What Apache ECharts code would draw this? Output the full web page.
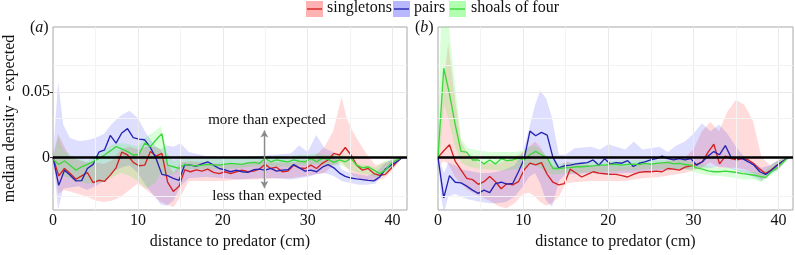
<!DOCTYPE html>
<html><head><meta charset="utf-8">
<script src="https://cdn.jsdelivr.net/npm/echarts@6/dist/echarts.min.js"></script>
<style>html,body{margin:0;padding:0;background:#fff;}#c{width:795px;height:255px;}</style>
</head><body><div id="c"></div>
<script>
// ---------- DATA ----------
const seriesNames = ['singletons', 'pairs', 'shoals of four'];
const xStep = 0.675;               // cm between successive medians
const xTicks = [0, 10, 20, 30, 40];
const yTicks = [0, 0.05];
const annotText = ['more than expected', 'less than expected'];
const panelLetters = ['a', 'b'];

// panel (a) medians
const aSingletons = [0, -0.0142, -0.0085, -0.0124, -0.0167, -0.0142, -0.0116, -0.0193, -0.0175, -0.0183,
 -0.0136, -0.008, 0.0039, 0.0018, -0.0039, -0.0064, -0.006, 0.0044, 0.001, 0.003,
 -0.019, -0.026, -0.022, -0.0095, -0.011, -0.0095, -0.0105, -0.009, -0.0115, -0.0124,
 -0.011, -0.0124, -0.011, -0.0098, -0.011, -0.0105, -0.009, -0.0054, -0.0085, -0.0075,
 -0.011, -0.0105, -0.006, -0.008, -0.0085, -0.006, -0.0085, -0.0046, -0.002, 0.003,
 0.0018, 0.0075, 0.0018, -0.006, -0.0098, -0.0085, -0.0124, -0.0137, -0.013, -0.0085,
 -0.0034, 0];
const aPairs = [0, -0.0214, -0.0098, -0.0136, -0.018, -0.0178, -0.0085, -0.0054, 0.0039, 0.0057,
 0.0167, 0.0108, 0.0186, 0.0219, 0.015, 0.0139, 0.0134, 0.0075, -0.001, -0.013,
 -0.014, -0.016, -0.0175, -0.0055, -0.006, -0.0068, -0.005, -0.0034, -0.006, -0.0085,
 -0.0095, -0.011, -0.0098, -0.011, -0.0115, -0.0095, -0.009, -0.0098, -0.0085, -0.0105,
 -0.0098, -0.0095, -0.0055, -0.008, -0.0105, -0.0098, -0.011, -0.0075, -0.0055, -0.008,
 -0.012, -0.0145, -0.0158, -0.0165, -0.017, -0.0176, -0.018, -0.015, -0.009, -0.006,
 -0.0034, 0];
const aShoals = [-0.0015, -0.0054, -0.0028, -0.006, -0.0098, -0.0072, -0.0054, -0.0033, -0.0008, 0.0018,
 0.0049, 0.0082, 0.0064, 0.0044, 0.0018, 0.0023, 0.0108, 0.0082, 0.0134, 0.018,
 -0.006, -0.0072, -0.0085, -0.0054, -0.006, -0.0065, -0.006, -0.0054, -0.0058, -0.006,
 -0.0052, -0.0046, -0.005, -0.0054, -0.0042, -0.0039, -0.0046, -0.0008, -0.0034, -0.002,
 -0.0028, -0.0034, -0.002, -0.003, -0.0034, -0.0008, -0.0034, -0.0008, -0.0015, -0.0039,
 -0.002, -0.0034, -0.0008, -0.006, -0.008, -0.0072, -0.0098, -0.0124, -0.0098, -0.0046,
 -0.002, 0];

// panel (b) medians
const bSingletons = [0, 0.005, 0.0096, -0.003, -0.0095, -0.016, -0.017, -0.0206, -0.0186, -0.0147,
 -0.0186, -0.024, -0.02, -0.021, -0.0186, -0.0095, -0.0044, -0.0057, -0.004, -0.013,
 -0.019, -0.021, -0.02, -0.009, -0.012, -0.015, -0.013, -0.011, -0.012, -0.0125,
 -0.013, -0.013, -0.014, -0.015, -0.013, -0.0115, -0.011, -0.011, -0.0105, -0.011,
 -0.0085, -0.009, -0.0098, -0.0075, -0.0065, -0.0054, -0.0034, 0.004, 0.010, -0.005,
 0.001, -0.001, -0.002, -0.001, -0.002, -0.005, -0.009, -0.0124, -0.0095, -0.006,
 -0.003, 0];
const bPairs = [0, -0.031, -0.014, -0.019, -0.0195, -0.022, -0.025, -0.0275, -0.025, -0.027,
 -0.02, -0.019, -0.0205, -0.02, -0.011, -0.001, 0.02, 0.0165, 0.019, 0.017,
 0.0, -0.008, -0.0065, -0.006, -0.005, -0.0045, -0.004, -0.002, -0.006, -0.001,
 -0.005, -0.004, -0.0045, -0.0025, -0.007, -0.0045, -0.0035, -0.002, -0.001, 0.001,
 -0.001, -0.002, -0.001, -0.002, -0.001, -0.006, -0.0034, 0.001, 0.0044, 0.002,
 0.009, 0.0, -0.001, -0.001, -0.0034, -0.006, -0.011, -0.013, -0.01, -0.006,
 -0.003, 0];
const bShoals = [0, 0.068, 0.0485, 0.025, 0.0046, 0.004, -0.002, -0.002, -0.005, -0.002,
 -0.005, -0.001, -0.0025, -0.002, -0.0005, -0.002, 0.002, 0.0046, 0.002, -0.0005,
 -0.0085, -0.0085, -0.008, -0.0078, -0.0072, -0.0072, -0.0068, -0.0065, -0.006, -0.006,
 -0.0055, -0.0055, -0.006, -0.0055, -0.0052, -0.0055, -0.0046, -0.0052, -0.0046, -0.0042,
 -0.0039, -0.005, -0.0046, -0.0055, -0.006, -0.008, -0.009, -0.0103, -0.011, -0.011,
 -0.0105, -0.011, -0.0116, -0.0124, -0.013, -0.0137, -0.0145, -0.0155, -0.011, -0.008,
 -0.0039, 0];

// panel (a) intervals
const bandXA = [0, 0.6, 1.2, 2, 3, 4, 5, 6, 7, 8, 9, 10, 11, 12, 12.7, 13.4, 14.2, 15, 16, 18,
 20, 22, 24, 26, 28, 29, 30, 31, 32, 33, 34, 34.6, 35.3, 36, 37, 38, 39, 40, 41.2];
const aSingLo = [0, -0.028, -0.025, -0.026, -0.028, -0.03, -0.033, -0.034, -0.033, -0.03,
 -0.025, -0.02, -0.025, -0.03, -0.034, -0.036, -0.038, -0.03, -0.018, -0.018,
 -0.018, -0.017, -0.017, -0.016, -0.016, -0.015, -0.014, -0.013, -0.012, -0.006,
 -0.004, -0.008, -0.014, -0.016, -0.018, -0.018, -0.016, -0.01, 0];
const aSingHi = [0, 0.018, 0.01, 0.0, -0.002, -0.004, -0.004, -0.005, -0.002, 0.006,
 0.008, 0.006, 0.008, 0.008, 0.006, -0.004, -0.012, -0.004, -0.003, -0.004,
 -0.005, -0.005, -0.003, -0.004, -0.004, -0.003, -0.002, 0.002, 0.008, 0.02,
 0.046, 0.03, 0.02, 0.012, 0.002, -0.006, -0.004, -0.002, 0];
const aPairsLo = [0, -0.04, -0.024, -0.023, -0.022, -0.025, -0.022, -0.018, -0.011, -0.008,
 -0.006, -0.012, -0.022, -0.03, -0.036, -0.037, -0.033, -0.022, -0.016, -0.015,
 -0.016, -0.017, -0.016, -0.016, -0.017, -0.016, -0.015, -0.013, -0.012, -0.014,
 -0.018, -0.019, -0.02, -0.021, -0.021, -0.02, -0.012, -0.008, 0];
const aPairsHi = [0, 0.058, 0.025, 0.0147, 0.0124, 0.013, 0.015, 0.018, 0.026, 0.032,
 0.0355, 0.03, 0.018, 0.009, 0.006, 0.009, 0.008, 0.0108, 0.004, 0.001,
 0.0, 0.0, 0.001, 0.002, 0.003, 0.009, 0.004, 0.017, 0.007, 0.004,
 -0.009, -0.011, -0.012, -0.013, -0.014, -0.012, -0.005, -0.001, 0];
const aShoalLo = [0, -0.014, -0.014, -0.016, -0.018, -0.02, -0.02, -0.018, -0.015, -0.012,
 -0.014, -0.018, -0.024, -0.02, -0.012, -0.014, -0.013, -0.01, -0.009, -0.009,
 -0.009, -0.008, -0.007, -0.007, -0.007, -0.006, -0.006, -0.005, -0.006, -0.006,
 -0.006, -0.008, -0.01, -0.012, -0.013, -0.015, -0.014, -0.008, 0];
const aShoalHi = [0, 0.016, 0.006, 0.002, -0.001, -0.003, 0.001, 0.005, 0.01, 0.011,
 0.01, 0.008, 0.016, 0.02, 0.024, 0.004, -0.003, -0.001, -0.001, -0.001,
 -0.001, 0.0, 0.001, 0.001, 0.001, 0.002, 0.002, 0.003, 0.002, 0.002,
 0.002, 0.001, -0.003, -0.005, -0.006, -0.008, -0.003, -0.001, 0];

// panel (b) intervals
const bandXB = [0, 0.35, 0.7, 1.2, 2, 2.7, 3.5, 5, 6, 7, 8, 9, 10, 10.7, 11.4, 12, 12.7, 13.4, 14.2, 15,
 16, 18, 19, 20, 22, 23, 24, 26, 27, 28, 29, 30, 31, 32, 33, 34, 35, 36, 37, 38, 39, 40, 41.2];
const bSingLo = [0, -0.005, -0.003, -0.005, -0.015, -0.02, -0.025, -0.03, -0.033, -0.037,
 -0.039, -0.035, -0.028, -0.027, -0.03, -0.034, -0.037, -0.035, -0.03, -0.02,
 -0.019, -0.018, -0.018, -0.018, -0.018, -0.017, -0.016, -0.015, -0.014, -0.013,
 -0.012, -0.01, -0.008, -0.004, -0.008, -0.008, -0.008, -0.009, -0.012, -0.017,
 -0.012, -0.009, 0];
const bSingHi = [0, 0.03, 0.06, 0.087, 0.045, 0.012, 0.002, -0.005, -0.004, -0.005,
 -0.002, 0.0, 0.004, 0.008, 0.012, 0.008, 0.0, -0.006, -0.008, -0.003,
 -0.005, -0.006, -0.006, -0.006, -0.007, -0.006, -0.005, -0.004, -0.003, -0.002,
 0.0, 0.006, 0.02, 0.027, 0.02, 0.035, 0.044, 0.04, 0.028, 0.0,
 -0.006, -0.002, 0];
const bPairsLo = [0, -0.03, -0.042, -0.03, -0.028, -0.03, -0.032, -0.034, -0.035, -0.035,
 -0.034, -0.03, -0.022, -0.015, -0.012, -0.02, -0.033, -0.038, -0.018, -0.013,
 -0.013, -0.012, -0.013, -0.013, -0.012, -0.012, -0.011, -0.01, -0.01, -0.009,
 -0.009, -0.009, -0.008, -0.008, -0.007, -0.008, -0.01, -0.012, -0.015, -0.018,
 -0.013, -0.009, 0];
const bPairsHi = [0, -0.005, -0.012, -0.004, -0.006, -0.009, -0.01, -0.012, -0.012, -0.011,
 -0.009, -0.006, 0.004, 0.022, 0.04, 0.051, 0.045, 0.03, 0.002, 0.002,
 0.007, 0.008, 0.006, 0.01, 0.006, 0.012, 0.006, 0.008, 0.004, 0.009,
 0.012, 0.018, 0.026, 0.02, 0.025, 0.018, 0.008, 0.0, -0.004, -0.008,
 -0.006, -0.002, 0];
const bShoalLo = [-0.01, 0.01, 0.04, 0.03, 0.008, -0.004, -0.007, -0.009, -0.009, -0.01,
 -0.01, -0.009, -0.008, -0.006, -0.006, -0.008, -0.011, -0.013, -0.013, -0.012,
 -0.012, -0.011, -0.011, -0.011, -0.01, -0.01, -0.009, -0.009, -0.009, -0.009,
 -0.009, -0.011, -0.013, -0.014, -0.014, -0.015, -0.016, -0.017, -0.017, -0.019,
 -0.014, -0.01, 0];
const bShoalHi = [0.02, 0.105, 0.105, 0.105, 0.055, 0.015, 0.007, 0.005, 0.004, 0.004,
 0.004, 0.004, 0.005, 0.008, 0.009, 0.006, 0.002, -0.002, -0.005, -0.004,
 -0.004, -0.003, -0.003, -0.003, -0.002, -0.002, -0.002, -0.002, -0.002, -0.002,
 -0.002, -0.004, -0.005, -0.007, -0.008, -0.008, -0.009, -0.01, -0.011, -0.012,
 -0.007, -0.002, 0];

// ---------- STYLE ----------
const FONT = 'Liberation Serif';
const FS = 16;
const TXT = '#111';
const lineColors = ['#d42222', '#2424b4', '#3bd83b'];
const bandColors = ['rgba(255,0,0,0.14)', 'rgba(0,0,255,0.13)', 'rgba(0,255,0,0.15)'];
const legendFill = ['rgba(255,0,0,0.3)', 'rgba(0,0,255,0.28)', 'rgba(0,255,0,0.3)'];
const Y_MIN = -0.0402, Y_MAX = 0.0995, X_MAX = 41.7;

const chart = echarts.init(document.getElementById('c'), null, {renderer: 'canvas'});

function toXY(arr) { return arr.map((v, i) => [i * xStep, v]); }

function band(g, xArr, lo, hi, color) {
  return {
    type: 'custom', xAxisIndex: g, yAxisIndex: g, silent: true, z: 1, animation: false,
    data: [[0, 0]], encode: {x: 0, y: 1},
    renderItem: function (params, api) {
      const pts = [];
      for (let k = 0; k < xArr.length; k++) pts.push(api.coord([xArr[k], hi[k]]));
      for (let k = xArr.length - 1; k >= 0; k--) pts.push(api.coord([xArr[k], lo[k]]));
      const cs = params.coordSys;
      return {
        type: 'polygon', shape: {points: pts},
        style: {fill: color, stroke: null},
        clipPath: {type: 'rect', shape: {x: cs.x, y: cs.y, width: cs.width, height: cs.height}}
      };
    }
  };
}
function line(g, arr, k) {
  return {
    type: 'line', name: seriesNames[k], xAxisIndex: g, yAxisIndex: g, data: toXY(arr),
    showSymbol: false, symbol: 'none', silent: true, animation: false, z: 3,
    lineStyle: {color: lineColors[k], width: 1.35}, itemStyle: {color: lineColors[k]}
  };
}
function gridLines(g) {
  const d = [];
  [5, 15, 25, 35].forEach(v => d.push({xAxis: v, lineStyle: {color: '#f3f3f3', width: 1}}));
  [10, 20, 30, 40].forEach(v => d.push({xAxis: v, lineStyle: {color: '#e9e9e9', width: 1}}));
  [-0.025, 0.025, 0.075].forEach(v => d.push({yAxis: v, lineStyle: {color: '#f3f3f3', width: 1}}));
  [0.05].forEach(v => d.push({yAxis: v, lineStyle: {color: '#e9e9e9', width: 1}}));
  return {
    type: 'line', xAxisIndex: g, yAxisIndex: g, data: [], z: 0, silent: true, animation: false,
    markLine: {silent: true, symbol: ['none', 'none'], label: {show: false}, animation: false,
      lineStyle: {type: 'solid'}, data: d}
  };
}
function zeroLine(g) {
  return {
    type: 'line', xAxisIndex: g, yAxisIndex: g, data: [], z: 10, silent: true, animation: false,
    markLine: {silent: true, symbol: ['none', 'none'], label: {show: false}, animation: false,
      lineStyle: {type: 'solid', color: '#000', width: 2.5}, data: [{yAxis: 0}]}
  };
}
function xAxis(g) {
  return {
    gridIndex: g, type: 'value', min: 0, max: X_MAX,
    axisLine: {show: false}, splitLine: {show: false},
    axisTick: {show: true, length: 3, customValues: xTicks, lineStyle: {color: '#333'}},
    axisLabel: {customValues: xTicks, fontFamily: FONT, fontSize: FS, color: TXT, margin: 3},
    name: 'distance to predator (cm)', nameLocation: 'middle', nameGap: 24,
    nameTextStyle: {fontFamily: FONT, fontSize: FS, color: TXT}
  };
}
function yAxis(g) {
  const o = {
    gridIndex: g, type: 'value', min: Y_MIN, max: Y_MAX,
    axisLine: {show: false}, splitLine: {show: false},
    axisTick: {show: g === 0, length: 3, customValues: yTicks, lineStyle: {color: '#333'}},
    axisLabel: {show: g === 0, customValues: yTicks, fontFamily: FONT, fontSize: FS, color: TXT, margin: 3,
      formatter: v => (v === 0 ? '0' : String(v))}
  };
  if (g === 0) {
    o.name = 'median density - expected';
    o.nameLocation = 'middle'; o.nameGap = 34; o.nameRotate = 90;
    o.nameTextStyle = {fontFamily: FONT, fontSize: FS, color: TXT};
  }
  return o;
}

const series = [
  gridLines(0), gridLines(1),
  band(0, bandXA, aSingLo, aSingHi, bandColors[0]),
  band(0, bandXA, aPairsLo, aPairsHi, bandColors[1]),
  band(0, bandXA, aShoalLo, aShoalHi, bandColors[2]),
  band(1, bandXB, bSingLo, bSingHi, bandColors[0]),
  band(1, bandXB, bPairsLo, bPairsHi, bandColors[1]),
  band(1, bandXB, bShoalLo, bShoalHi, bandColors[2]),
  line(0, aSingletons, 0), line(0, aPairs, 1), line(0, aShoals, 2),
  line(1, bSingletons, 0), line(1, bPairs, 1), line(1, bShoals, 2),
  zeroLine(0), zeroLine(1),
  { // annotation arrow
    type: 'line', xAxisIndex: 0, yAxisIndex: 0, data: [], z: 11, silent: true, animation: false,
    markLine: {silent: true, symbol: ['arrow', 'arrow'], symbolSize: [6, 7], label: {show: false}, animation: false,
      lineStyle: {type: 'solid', color: '#8a8a8a', width: 1.4},
      data: [[{coord: [24.9, -0.0235]}, {coord: [24.9, 0.0205]}]]}
  }
];

const legendX = [306, 393, 449];
const legendTextX = [327, 414, 471];
const graphic = [];
for (let k = 0; k < 3; k++) {
  graphic.push({type: 'rect', left: legendX[k], top: 1, shape: {width: 17, height: 16},
    style: {fill: legendFill[k], stroke: null}});
  graphic.push({type: 'line', shape: {x1: legendX[k] + 1, y1: 9, x2: legendX[k] + 16, y2: 9},
    style: {stroke: lineColors[k], lineWidth: 1.4}});
  graphic.push({type: 'text', left: legendTextX[k], top: 0,
    style: {text: seriesNames[k], fontFamily: FONT, fontSize: FS, fill: TXT}});
}
const panelLabelX = [30, 415];
for (let k = 0; k < 2; k++) {
  graphic.push({type: 'text', left: panelLabelX[k], top: 20,
    style: {text: '{n|(}{i|' + panelLetters[k] + '}{n|)}',
      rich: {n: {fontFamily: FONT, fontSize: FS, fill: TXT},
             i: {fontFamily: FONT, fontSize: FS, fontStyle: 'italic', fill: TXT}}}});
}

chart.setOption({
  animation: false,
  backgroundColor: '#fff',
  grid: [
    {left: 53, top: 27, width: 354, height: 185, show: true, borderColor: '#a8a8a8', borderWidth: 1, backgroundColor: 'transparent'},
    {left: 438, top: 27, width: 355, height: 185, show: true, borderColor: '#a8a8a8', borderWidth: 1, backgroundColor: 'transparent'}
  ],
  xAxis: [xAxis(0), xAxis(1)],
  yAxis: [yAxis(0), yAxis(1)],
  series: series,
  graphic: graphic
});

// annotation text, placed through panel (a)'s scales
const annotPos = [[25.2, 0.0288], [25.2, -0.0296]];
const annotGraphic = annotPos.map((p, k) => {
  const px = chart.convertToPixel({gridIndex: 0}, p);
  return {type: 'text', x: px[0], y: px[1], z: 20,
    style: {text: annotText[k], fontFamily: FONT, fontSize: 15, fill: TXT, align: 'center', verticalAlign: 'middle'}};
});
chart.setOption({graphic: graphic.concat(annotGraphic)});
</script>
</body></html>
